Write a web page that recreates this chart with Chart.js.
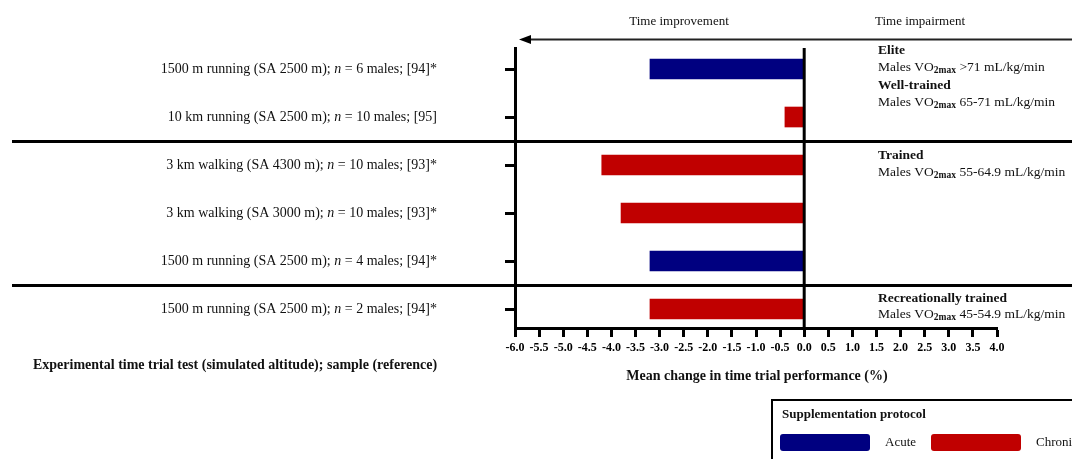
<!DOCTYPE html>
<html lang="en">
<head>
  <meta charset="UTF-8">
  <title>Mean change in time trial performance</title>
  <style>
    body, html {
      margin: 0;
      padding: 0;
      background: #fff;
    }
    .chart-box {
      position: relative;
      width: 1072px;
      height: 459px;
    }
  </style>
</head>
<body>
  <div class="chart-box">
    <canvas id="trialChart"></canvas>
  </div>

  <script src="https://cdn.jsdelivr.net/npm/chart.js"></script>
  <script>
    // data
    const studies = [
      '1500 m running (SA 2500 m); n = 6 males; [94]*',
      '10 km running (SA 2500 m); n = 10 males; [95]',
      '3 km walking (SA 4300 m); n = 10 males; [93]*',
      '3 km walking (SA 3000 m); n = 10 males; [93]*',
      '1500 m running (SA 2500 m); n = 4 males; [94]*',
      '1500 m running (SA 2500 m); n = 2 males; [94]*'
    ];
    const changes = [-3.2, -0.4, -4.2, -3.8, -3.2, -3.2];
    const protocols = ['Acute', 'Chronic', 'Chronic', 'Chronic', 'Acute', 'Chronic'];
    const protocolNames = ['Acute', 'Chronic'];
    const protocolColors = ['#000080', '#c00000'];
    const xMin = -6, xMax = 4, xStep = 0.5;
    const groupTitles = ['Elite', 'Well-trained', 'Trained', 'Recreationally trained'];
    const groupRanges = ['>71 mL/kg/min', '65-71 mL/kg/min', '55-64.9 mL/kg/min', '45-54.9 mL/kg/min'];
    const separators = [1.5, 4.5];   // between groups of rows

    const SERIF = '"Liberation Serif", "Times New Roman", serif';
    const INK = '#111';

    const datasets = protocolNames.map((name, k) => ({
      label: name,
      data: studies.map((s, i) => ({ x: changes[i], y: i }))
                   .filter((p, i) => protocols[i] === name),
      backgroundColor: protocolColors[k],
      borderWidth: 0,
      barThickness: 20,
      grouped: false
    }));

    // labels, lines and text around the plot
    const extras = {
      id: 'extras',
      afterDatasetsDraw(chart) {
        const c = chart.ctx;
        const xs = chart.scales.x, ys = chart.scales.y;
        const area = chart.chartArea;
        c.save();
        c.strokeStyle = '#000';
        c.fillStyle = INK;

        // zero line
        const x0 = xs.getPixelForValue(0);
        c.lineWidth = 3;
        c.beginPath();
        c.moveTo(x0, area.top);
        c.lineTo(x0, area.bottom);
        c.stroke();

        // group separators
        separators.forEach(v => {
          const y = Math.round(ys.getPixelForValue(v)) + 0.5;
          c.beginPath();
          c.moveTo(12, y);
          c.lineTo(chart.width, y);
          c.stroke();
        });

        // arrow on top
        c.strokeStyle = '#222';
        c.lineWidth = 2;
        c.beginPath();
        c.moveTo(528, 39.5);
        c.lineTo(chart.width, 39.5);
        c.stroke();
        c.fillStyle = '#000';
        c.beginPath();
        c.moveTo(519, 39.5);
        c.lineTo(531, 35);
        c.lineTo(531, 44);
        c.closePath();
        c.fill();

        c.fillStyle = INK;
        c.textBaseline = 'middle';
        c.textAlign = 'center';
        c.font = '13px ' + SERIF;
        c.fillText('Time improvement', 679, 22);
        c.fillText('Time impairment', 920, 22);

        // study labels with italic n
        studies.forEach((s, i) => {
          const y = ys.getPixelForValue(i);
          const k = s.indexOf('n =');
          const parts = [[s.slice(0, k), ''], ['n', 'italic '], [s.slice(k + 1), '']];
          let w = 0;
          parts.forEach(p => { c.font = p[1] + '14px ' + SERIF; w += c.measureText(p[0]).width; });
          let x = 437 - w;
          c.textAlign = 'left';
          parts.forEach(p => {
            c.font = p[1] + '14px ' + SERIF;
            c.fillText(p[0], x, y);
            x += c.measureText(p[0]).width;
          });
        });

        // group titles on the right
        const gy = [area.top + 3, area.top + 38,
                    ys.getPixelForValue(separators[0]) + 15,
                    ys.getPixelForValue(separators[1]) + 13];
        groupTitles.forEach((t, i) => {
          const gx = 878;
          c.textAlign = 'left';
          c.font = 'bold 13.5px ' + SERIF;
          c.fillText(t, gx, gy[i]);
          const y2 = gy[i] + 16;
          c.font = '13.5px ' + SERIF;
          let x = gx;
          c.fillText('Males VO', x, y2);
          x += c.measureText('Males VO').width;
          c.font = 'bold 9.5px ' + SERIF;
          c.fillText('2max', x, y2 + 4);
          x += c.measureText('2max').width;
          c.font = '13.5px ' + SERIF;
          c.fillText(' ' + groupRanges[i], x, y2);
        });

        // axis titles
        c.font = 'bold 14px ' + SERIF;
        c.textAlign = 'left';
        c.fillText('Experimental time trial test (simulated altitude); sample (reference)', 33, 365);
        c.textAlign = 'center';
        c.fillText('Mean change in time trial performance (%)', 757, 376);

        // legend box
        c.lineWidth = 2;
        c.strokeStyle = '#000';
        c.strokeRect(772, 400, 320, 80);
        c.textAlign = 'left';
        c.font = 'bold 13px ' + SERIF;
        c.fillText('Supplementation protocol', 782, 415);
        protocolNames.forEach((name, k) => {
          const bx = 780 + k * 151;
          c.fillStyle = protocolColors[k];
          c.beginPath();
          c.roundRect(bx, 434, 90, 17, 3);
          c.fill();
          c.fillStyle = INK;
          c.font = '13px ' + SERIF;
          c.fillText(name, bx + 105, 443);
        });
        c.restore();
      }
    };

    const ctx = document.getElementById('trialChart').getContext('2d');
    const trialChart = new Chart(ctx, {
      type: 'bar',
      data: { datasets: datasets },
      options: {
        indexAxis: 'y',
        responsive: true,
        maintainAspectRatio: false,
        animation: false,
        layout: { padding: { top: 48, right: 75, left: 0, bottom: 0 } },
        plugins: {
          legend: { display: false },
          tooltip: { enabled: false }
        },
        scales: {
          x: {
            type: 'linear',
            min: xMin,
            max: xMax,
            afterFit: s => { s.height = 131; },
            ticks: {
              stepSize: xStep,
              autoSkip: false,
              maxRotation: 0,
              padding: 4,
              color: '#000',
              font: { family: SERIF, size: 12, weight: 'bold' },
              callback: v => v.toFixed(1)
            },
            grid: {
              drawOnChartArea: false,
              drawTicks: true,
              tickLength: 9,
              tickWidth: 3,
              tickColor: '#000'
            },
            border: { display: true, color: '#000', width: 3 }
          },
          y: {
            type: 'linear',
            reverse: true,
            offset: false,
            min: -0.4375,
            max: 5.395,
            afterFit: s => { s.width = 515; },
            afterBuildTicks: s => { s.ticks = studies.map((_, i) => ({ value: i })); },
            ticks: { display: false },
            grid: {
              offset: false,
              drawOnChartArea: false,
              drawTicks: true,
              tickLength: 10,
              tickWidth: 3,
              tickColor: '#000'
            },
            border: { display: true, color: '#000', width: 3 }
          }
        }
      },
      plugins: [extras]
    });
  </script>
</body>
</html>
